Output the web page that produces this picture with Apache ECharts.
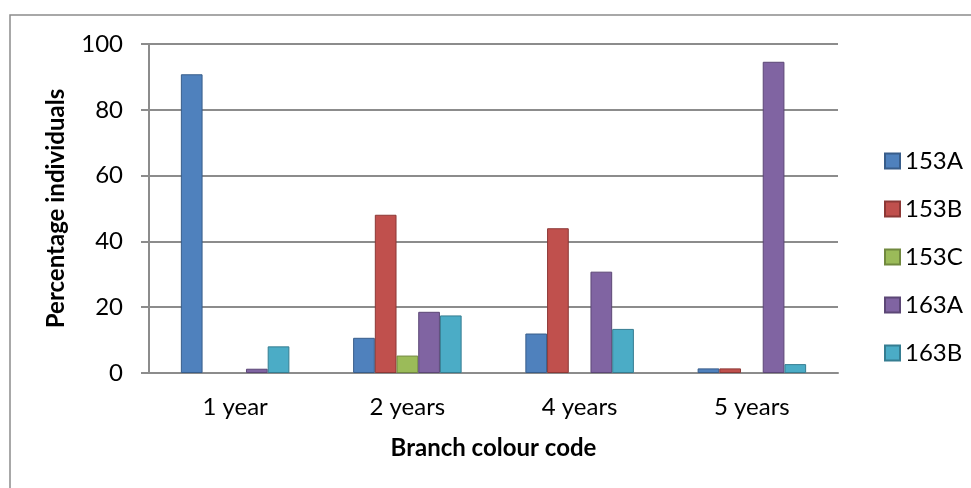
<!DOCTYPE html>
<html>
<head>
<meta charset="utf-8">
<script src="https://cdn.jsdelivr.net/npm/echarts@6/dist/echarts.min.js"></script>
<style>
  html, body { margin: 0; padding: 0; background: #fff; }
  #main { width: 971px; height: 488px; }
</style>
</head>
<body>
<div id="main"></div>
<script>
// data (null = no bar drawn)
var categories = ['1 year', '2 years', '4 years', '5 years'];
var seriesNames = ['153A', '153B', '153C', '163A', '163B'];
var v153A = [90.8, 10.7, 12.0, 1.4];
var v153B = [null, 48.1, 44.0, 1.4];
var v153C = [null, 5.3, null, null];
var v163A = [1.3, 18.6, 30.8, 94.6];
var v163B = [8.1, 17.5, 13.4, 2.7];
var yTicks = [0, 20, 40, 60, 80, 100];

var fills = ['#4F81BD', '#C0504D', '#9BBB59', '#8064A2', '#4BACC6'];
var edges = ['#385D8A', '#8C3836', '#71893F', '#5C4776', '#357D91'];
var values = [v153A, v153B, v153C, v163A, v163B];

var font = 'Lato, "Open Sans", sans-serif';

var series = [];
for (var i = 0; i < seriesNames.length; i++) {
  series.push({
    name: seriesNames[i],
    type: 'bar',
    data: values[i],
    barGap: '0%',
    barCategoryGap: '37%',
    itemStyle: {
      color: fills[i],
      borderColor: edges[i],
      borderWidth: 1
    }
  });
}

var chart = echarts.init(document.getElementById('main'), null, { renderer: 'canvas' });

chart.setOption({
  animation: false,
  backgroundColor: '#fff',
  textStyle: { fontFamily: font },
  graphic: [{
    type: 'rect',
    shape: { x: 10, y: 15, width: 980, height: 500 },
    style: { fill: 'none', stroke: '#8c8c8c', lineWidth: 1.5 },
    silent: true,
    z: -1
  }],
  grid: {
    left: 149,
    right: 133,
    top: 44,
    bottom: 115
  },
  legend: {
    orient: 'vertical',
    left: 879,
    top: 144,
    itemWidth: 15,
    itemHeight: 15,
    itemGap: 24,
    icon: 'rect',
    data: seriesNames,
    textStyle: {
      fontFamily: font,
      fontSize: 24,
      color: '#000'
    }
  },
  xAxis: {
    type: 'category',
    data: categories,
    name: 'Branch colour code',
    nameLocation: 'middle',
    nameGap: 63,
    nameTextStyle: {
      fontFamily: font,
      fontSize: 24,
      fontWeight: 'bold',
      color: '#000'
    },
    axisLine: { lineStyle: { color: '#8c8c8c', width: 2 } },
    axisTick: { show: false },
    axisLabel: {
      margin: 22,
      fontSize: 24,
      color: '#000',
      fontFamily: font
    }
  },
  yAxis: {
    type: 'value',
    min: yTicks[0],
    max: yTicks[yTicks.length - 1],
    interval: 20,
    name: 'Percentage individuals',
    nameLocation: 'middle',
    nameGap: 81,
    nameTextStyle: {
      fontFamily: font,
      fontSize: 24,
      fontWeight: 'bold',
      color: '#000'
    },
    axisLine: { show: true, lineStyle: { color: '#8c8c8c', width: 2 } },
    axisTick: { show: true, inside: false, length: 8, lineStyle: { color: '#8c8c8c', width: 2 } },
    splitLine: { lineStyle: { color: '#8c8c8c', width: 2 } },
    axisLabel: {
      margin: 26,
      fontSize: 24,
      color: '#000',
      fontFamily: font
    }
  },
  series: series
});
</script>
</body>
</html>
